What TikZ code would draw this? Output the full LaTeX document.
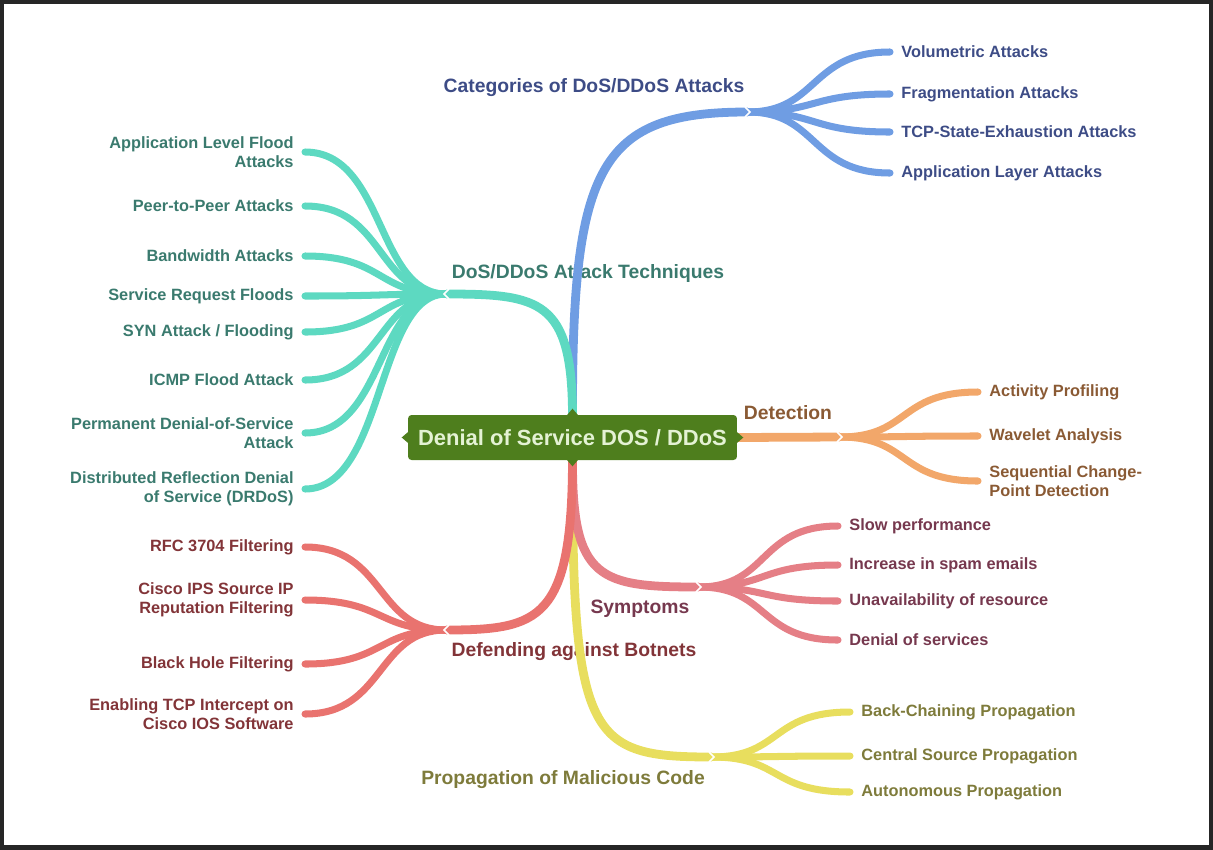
\documentclass[tikz,border=0pt]{standalone}
\usepackage{fontspec}
\setmainfont{Liberation Sans}
\definecolor{rootgreen}{RGB}{78,126,29}
\definecolor{roottext}{RGB}{228,242,212}
\definecolor{catline}{RGB}{111,157,227}
\definecolor{cattext}{RGB}{61,76,134}
\definecolor{techline}{RGB}{93,217,193}
\definecolor{techtext}{RGB}{58,122,110}
\definecolor{detline}{RGB}{242,167,106}
\definecolor{dettext}{RGB}{138,90,52}
\definecolor{symline}{RGB}{229,127,134}
\definecolor{symtext}{RGB}{118,56,78}
\definecolor{defline}{RGB}{233,115,111}
\definecolor{deftext}{RGB}{130,52,56}
\definecolor{propline}{RGB}{232,222,94}
\definecolor{proptext}{RGB}{126,123,59}
\usetikzlibrary{calc}

\begin{document}
\begin{tikzpicture}[x=0.02cm, y=-0.02cm,
  trunk/.style={line width=5pt},
  twig/.style={line width=4pt, line cap=round},
  topic/.style={font=\fontsize{11}{13}\selectfont\bfseries, inner sep=1pt},
  leafR/.style={font=\fontsize{9.3}{10.8}\selectfont\bfseries, anchor=west,
                align=left, inner sep=1pt, outer sep=5.5pt},
  leafL/.style={font=\fontsize{9.3}{10.8}\selectfont\bfseries, anchor=east,
                align=right, inner sep=1pt, outer sep=5.5pt},
  notch/.style={white, line width=0.9pt}]
\useasboundingbox (0,0) rectangle (1213,849);
\draw[line width=3pt, black!85] (1.5,1.5) rectangle (1211.5,847.5);

% Root node
\node[fill=rootgreen, rounded corners=2pt, minimum width=6.58cm, minimum height=0.9cm,
      text=roottext, font=\fontsize{12.5}{14}\selectfont\bfseries]
  (root) at (572.5,437.5) {Denial of Service DOS / DDoS};

% Junction points of the branches
\coordinate (cathub) at (748,112);
\coordinate (techhub) at (446,294);
\coordinate (dethub) at (840,437);
\coordinate (symhub) at (699,587);
\coordinate (defhub) at (446,630);
\coordinate (prophub) at (712,757);

% Topic labels
\node[topic, text=cattext] (catlbl) at (594,88) {Categories of DoS/DDoS Attacks};
\node[topic, text=techtext] (techlbl) at (588,273) {DoS/DDoS Attack Techniques};
\node[topic, text=dettext] (detlbl) at (788,413) {Detection};
\node[topic, text=symtext] (symlbl) at (640,609) {Symptoms};
\node[topic, text=deftext] (deflbl) at (574,652) {Defending against Botnets};
\node[topic, text=proptext] (proplbl) at (563,780) {Propagation of Malicious Code};

% Categories leaves
\node[leafR, text=cattext] (vol) at (890,52) {Volumetric Attacks};
\node[leafR, text=cattext] (frag) at (890,94) {Fragmentation Attacks};
\node[leafR, text=cattext] (tcp) at (890,132) {TCP-State-Exhaustion Attacks};
\node[leafR, text=cattext] (app) at (890,173) {Application Layer Attacks};

% Techniques leaves
\node[leafL, text=techtext] (alf) at (305,152) {Application Level Flood\\Attacks};
\node[leafL, text=techtext] (p2p) at (305,206) {Peer-to-Peer Attacks};
\node[leafL, text=techtext] (bw) at (305,256) {Bandwidth Attacks};
\node[leafL, text=techtext] (srf) at (305,296) {Service Request Floods};
\node[leafL, text=techtext] (syn) at (305,332) {SYN Attack / Flooding};
\node[leafL, text=techtext] (icmp) at (305,380) {ICMP Flood Attack};
\node[leafL, text=techtext] (pdos) at (305,433) {Permanent Denial-of-Service\\Attack};
\node[leafL, text=techtext] (drdos) at (305,489) {Distributed Reflection Denial\\of Service (DRDoS)};

% Detection leaves
\node[leafR, text=dettext] (act) at (978,392) {Activity Profiling};
\node[leafR, text=dettext] (wav) at (978,436) {Wavelet Analysis};
\node[leafR, text=dettext] (seq) at (978,481) {Sequential Change-\\Point Detection};

% Symptoms leaves
\node[leafR, text=symtext] (slow) at (838,526) {Slow performance};
\node[leafR, text=symtext] (spam) at (838,565) {Increase in spam emails};
\node[leafR, text=symtext] (unav) at (838,601) {Unavailability of resource};
\node[leafR, text=symtext] (dsvc) at (838,640) {Denial of services};

% Defending leaves
\node[leafL, text=deftext] (rfc) at (305,547) {RFC 3704 Filtering};
\node[leafL, text=deftext] (ips) at (305,600) {Cisco IPS Source IP\\Reputation Filtering};
\node[leafL, text=deftext] (bh) at (305,664) {Black Hole Filtering};
\node[leafL, text=deftext] (tcpi) at (305,714) {Enabling TCP Intercept on\\Cisco IOS Software};

% Propagation leaves
\node[leafR, text=proptext] (back) at (850,712) {Back-Chaining Propagation};
\node[leafR, text=proptext] (cent) at (850,756) {Central Source Propagation};
\node[leafR, text=proptext] (auto) at (850,792) {Autonomous Propagation};

% Trunks from the root
\draw[trunk, propline] (root.south) .. controls (572,740) and (590,757) .. (prophub);
\draw[trunk, catline] (root.north) .. controls (572,165) and (600,112) .. (cathub);
\draw[trunk, techline] (root.north) .. controls (572,300) and (540,294) .. (techhub);
\draw[trunk, detline] (root.east) -- (dethub);
\draw[trunk, symline] (root.south) .. controls (572,580) and (600,587) .. (symhub);
\draw[trunk, defline] (root.south) .. controls (572,620) and (540,630) .. (defhub);

% Twigs
\draw[twig, catline] (cathub) .. controls +(70,0) and +(-80,0) .. (vol.west);
\draw[twig, catline] (cathub) .. controls +(70,0) and +(-80,0) .. (frag.west);
\draw[twig, catline] (cathub) .. controls +(70,0) and +(-80,0) .. (tcp.west);
\draw[twig, catline] (cathub) .. controls +(70,0) and +(-80,0) .. (app.west);
\draw[twig, techline] (techhub) .. controls +(-70,0) and +(80,0) .. (alf.east);
\draw[twig, techline] (techhub) .. controls +(-70,0) and +(80,0) .. (p2p.east);
\draw[twig, techline] (techhub) .. controls +(-70,0) and +(80,0) .. (bw.east);
\draw[twig, techline] (techhub) .. controls +(-70,0) and +(80,0) .. (srf.east);
\draw[twig, techline] (techhub) .. controls +(-70,0) and +(80,0) .. (syn.east);
\draw[twig, techline] (techhub) .. controls +(-70,0) and +(80,0) .. (icmp.east);
\draw[twig, techline] (techhub) .. controls +(-70,0) and +(80,0) .. (pdos.east);
\draw[twig, techline] (techhub) .. controls +(-70,0) and +(80,0) .. (drdos.east);
\draw[twig, detline] (dethub) .. controls +(70,0) and +(-80,0) .. (act.west);
\draw[twig, detline] (dethub) .. controls +(70,0) and +(-80,0) .. (wav.west);
\draw[twig, detline] (dethub) .. controls +(70,0) and +(-80,0) .. (seq.west);
\draw[twig, symline] (symhub) .. controls +(70,0) and +(-80,0) .. (slow.west);
\draw[twig, symline] (symhub) .. controls +(70,0) and +(-80,0) .. (spam.west);
\draw[twig, symline] (symhub) .. controls +(70,0) and +(-80,0) .. (unav.west);
\draw[twig, symline] (symhub) .. controls +(70,0) and +(-80,0) .. (dsvc.west);
\draw[twig, defline] (defhub) .. controls +(-70,0) and +(80,0) .. (rfc.east);
\draw[twig, defline] (defhub) .. controls +(-70,0) and +(80,0) .. (ips.east);
\draw[twig, defline] (defhub) .. controls +(-70,0) and +(80,0) .. (bh.east);
\draw[twig, defline] (defhub) .. controls +(-70,0) and +(80,0) .. (tcpi.east);
\draw[twig, propline] (prophub) .. controls +(70,0) and +(-80,0) .. (back.west);
\draw[twig, propline] (prophub) .. controls +(70,0) and +(-80,0) .. (cent.west);
\draw[twig, propline] (prophub) .. controls +(70,0) and +(-80,0) .. (auto.west);

% White notches where trunk meets twigs
\draw[notch] ($(cathub)+(-3,-5)$) -- ($(cathub)+(2,0)$) -- ($(cathub)+(-3,5)$);
\draw[notch] ($(dethub)+(-3,-5)$) -- ($(dethub)+(2,0)$) -- ($(dethub)+(-3,5)$);
\draw[notch] ($(symhub)+(-3,-5)$) -- ($(symhub)+(2,0)$) -- ($(symhub)+(-3,5)$);
\draw[notch] ($(prophub)+(-3,-5)$) -- ($(prophub)+(2,0)$) -- ($(prophub)+(-3,5)$);
\draw[notch] ($(techhub)+(3,-5)$) -- ($(techhub)+(-2,0)$) -- ($(techhub)+(3,5)$);
\draw[notch] ($(defhub)+(3,-5)$) -- ($(defhub)+(-2,0)$) -- ($(defhub)+(3,5)$);

% Small tabs on the root node
\fill[rootgreen] ($(root.north)+(-6,1)$) -- ($(root.north)+(0,-6)$) -- ($(root.north)+(6,1)$) -- cycle;
\fill[rootgreen] ($(root.south)+(-6,-1)$) -- ($(root.south)+(0,6)$) -- ($(root.south)+(6,-1)$) -- cycle;
\fill[rootgreen] ($(root.west)+(1,-6)$) -- ($(root.west)+(-6,0)$) -- ($(root.west)+(1,6)$) -- cycle;
\fill[rootgreen] ($(root.east)+(-1,-6)$) -- ($(root.east)+(6,0)$) -- ($(root.east)+(-1,6)$) -- cycle;
\end{tikzpicture}
\end{document}
